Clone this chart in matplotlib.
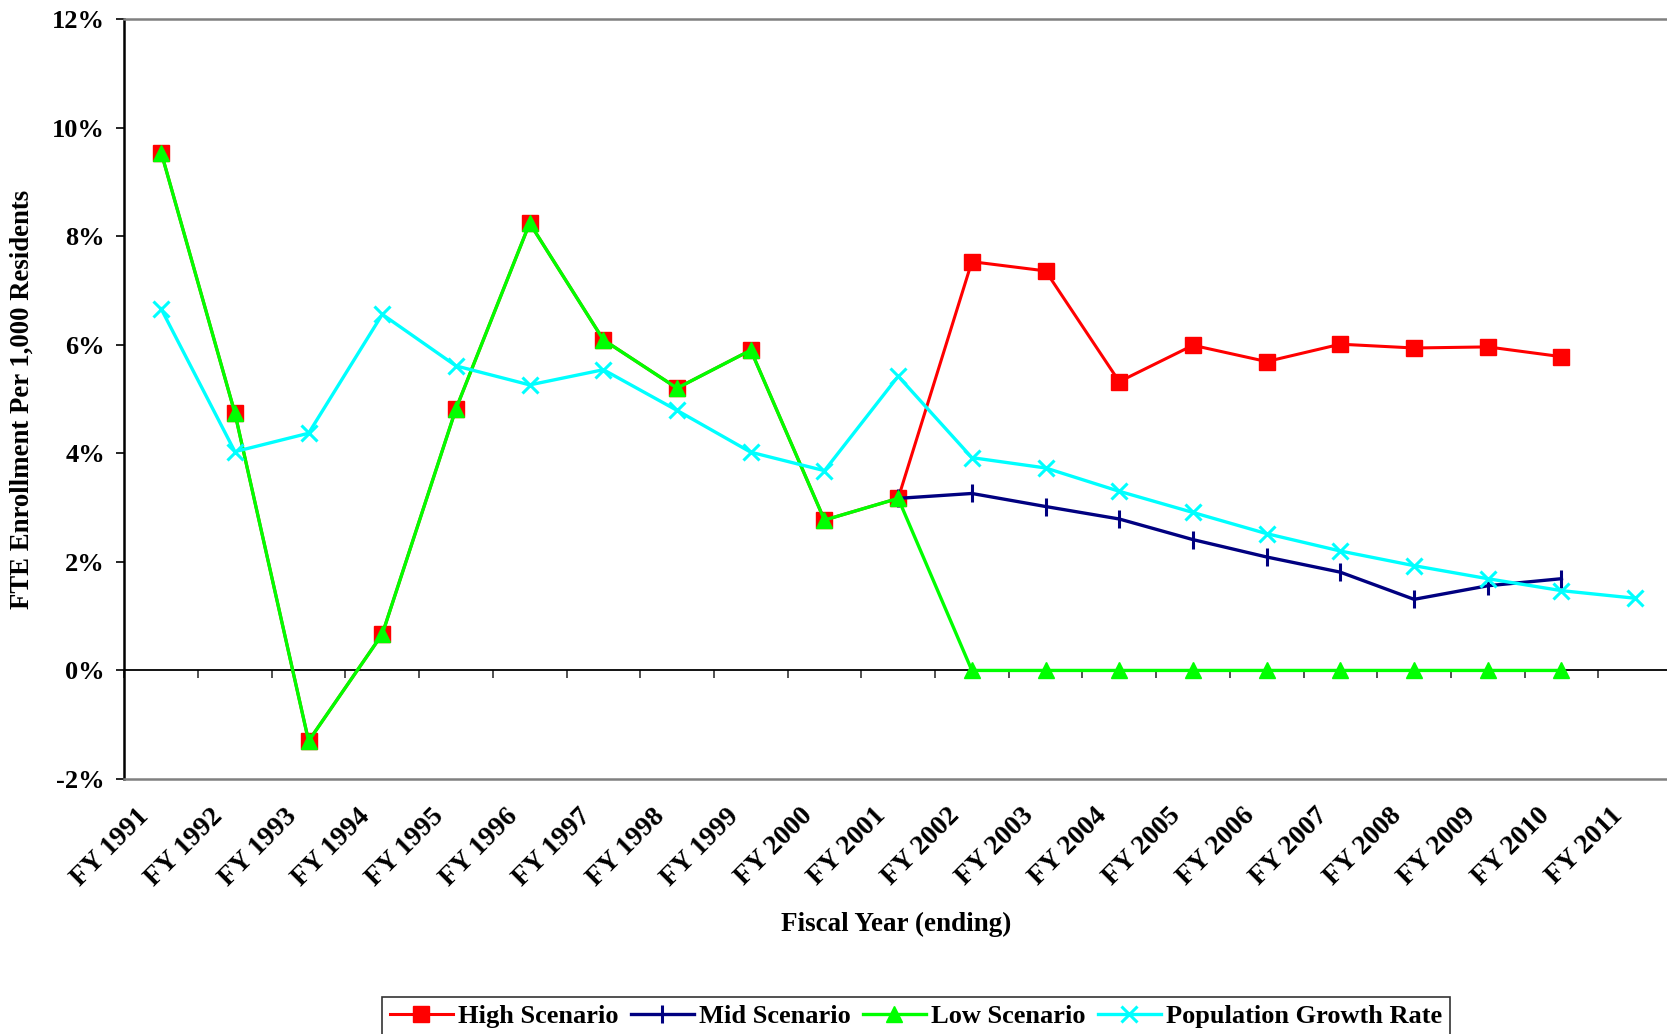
import matplotlib
matplotlib.use("Agg")
import matplotlib.pyplot as plt
import matplotlib.transforms as mtransforms
import numpy as np

# Данные (в процентах)
years = [f"FY {y}" for y in range(1991, 2012)]

high = [9.54, 4.74, -1.30, 0.67, 4.82, 8.24, 6.09, 5.20, 5.90, 2.77, 3.17,
        7.53, 7.36, 5.32, 5.99, 5.69, 6.01, 5.94, 5.96, 5.78, np.nan]
mid = [np.nan] * 10 + [3.17, 3.26, 3.02, 2.79, 2.41, 2.09, 1.81, 1.31, 1.56, 1.69, np.nan]
low = [9.54, 4.74, -1.30, 0.67, 4.82, 8.24, 6.09, 5.20, 5.90, 2.77, 3.17,
       0.0, 0.0, 0.0, 0.0, 0.0, 0.0, 0.0, 0.0, 0.0, np.nan]
population = [6.66, 4.03, 4.37, 6.56, 5.61, 5.26, 5.54, 4.79, 4.02, 3.68, 5.42,
              3.92, 3.73, 3.30, 2.91, 2.52, 2.20, 1.93, 1.69, 1.47, 1.33]

plt.rcParams["font.family"] = ["Liberation Serif", "DejaVu Serif"]
plt.rcParams["font.weight"] = "bold"

fig = plt.figure(figsize=(16.67, 10.34), dpi=100)
ax = fig.add_axes([0.0746, 0.2466, 0.9284, 0.735])

x = np.arange(len(years))

ax.plot(x, high, color="#FF0000", lw=2.2, marker="s", ms=11, label="High Scenario")
ax.plot(x, mid, color="#000080", lw=2.4, marker="|", ms=13, mew=2.2, label="Mid Scenario")
ax.plot(x, low, color="#00FF00", lw=2.4, marker="^", ms=11, label="Low Scenario")
ax.plot(x, population, color="#00FFFF", lw=2.4, marker="x", ms=11, mew=2.2,
        label="Population Growth Rate")

ax.set_xlim(-0.5, len(years) - 0.5)
ax.set_ylim(-2, 12)
ax.set_yticks(np.arange(-2, 13, 2))
ax.set_yticklabels([f"{v}%" for v in range(-2, 13, 2)], fontsize=19, fontweight="bold")
ax.tick_params(axis="y", length=6, width=1.2, pad=8, direction="out")

# Подписи по оси X
ax.set_xticks(x)
ax.set_xticklabels(years, rotation=45, ha="right", va="center",
                   rotation_mode="anchor", fontsize=20, fontweight="bold")
ax.tick_params(axis="x", length=0, pad=24)
offset = mtransforms.ScaledTranslation(-16 / 100, 0, fig.dpi_scale_trans)
for lbl in ax.get_xticklabels():
    lbl.set_transform(lbl.get_transform() + offset)

# Ось на уровне 0% с делениями между категориями
ax.axhline(0, color="black", lw=1.3, zorder=1)
sec = ax.secondary_xaxis(2 / 14)
sec.set_xticks(np.arange(-0.5, len(years), 1.0))
sec.tick_params(axis="x", length=6, width=1.2, direction="out", labelbottom=False,
                color="#333333")
sec.spines["bottom"].set_visible(False)

for side in ("top", "bottom"):
    ax.spines[side].set_color("#808080")
    ax.spines[side].set_linewidth(1.8)
ax.spines["left"].set_color("black")
ax.spines["left"].set_linewidth(1.8)
ax.spines["right"].set_visible(False)

ax.set_ylabel("FTE Enrollment Per 1,000 Residents", fontsize=19.3, fontweight="bold")
ax.yaxis.set_label_coords(-0.058, 0.5)
fig.text(0.5375, 0.106, "Fiscal Year (ending)", ha="center", va="center",
         fontsize=19.5, fontweight="bold")

leg = fig.legend(loc="upper center", bbox_to_anchor=(0.5495, 0.049), ncol=4,
                 frameon=True, fancybox=False, edgecolor="black", fontsize=19,
                 handlelength=2.4, handletextpad=0.2, columnspacing=0.45,
                 borderpad=0.3)
leg.get_frame().set_linewidth(1.2)
for t in leg.get_texts():
    t.set_fontweight("bold")

fig.savefig("out.png", dpi=100)
